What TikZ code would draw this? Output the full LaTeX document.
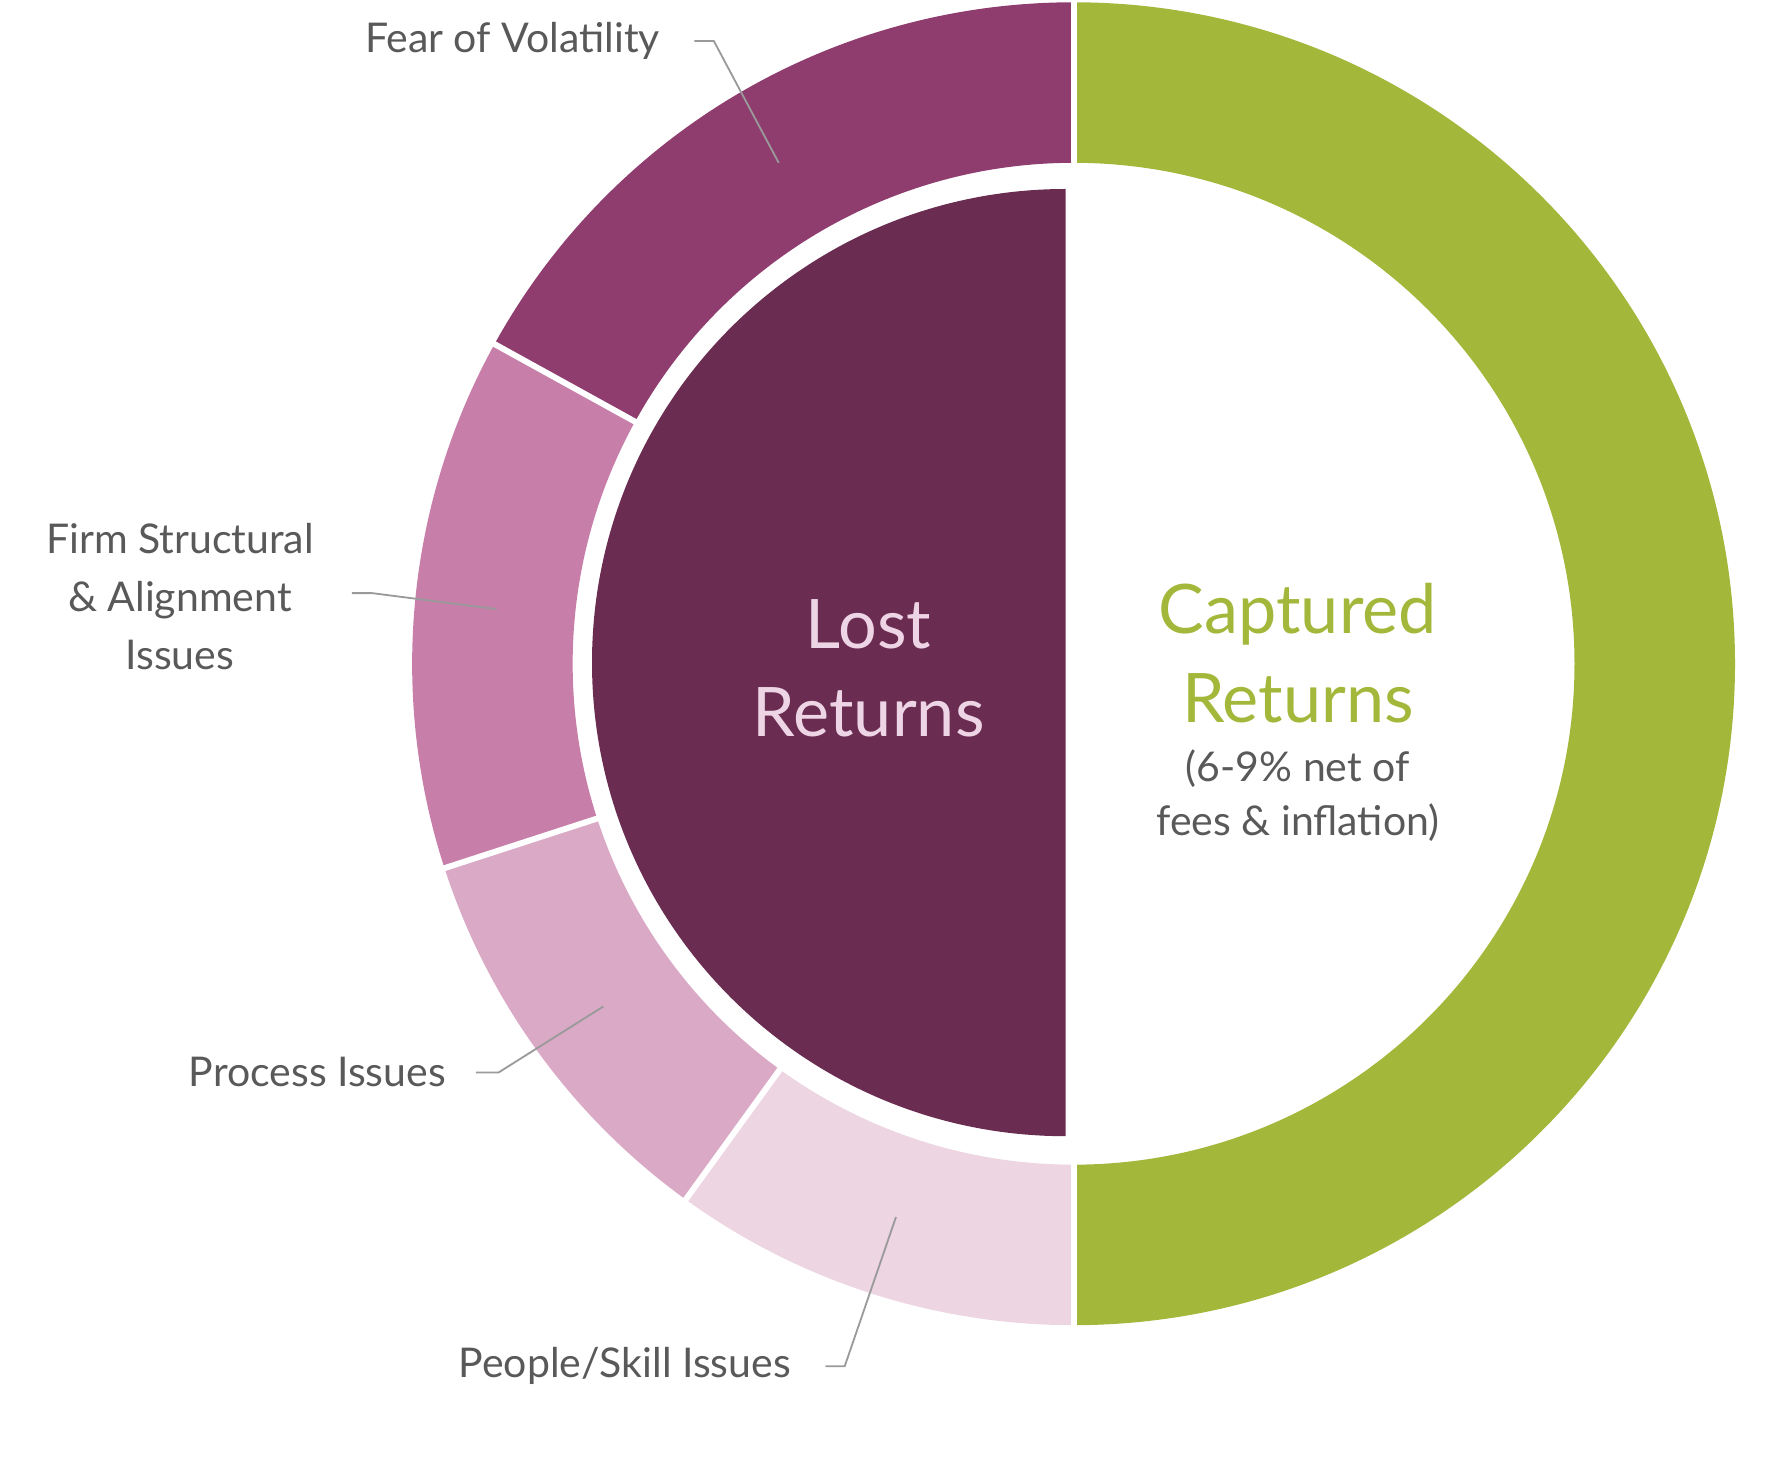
\documentclass[tikz,border=0pt]{standalone}
\usepackage{fontspec}
\setmainfont{Lato}
\definecolor{grn}{HTML}{A3B73B}
\definecolor{fear}{HTML}{8F3C6E}
\definecolor{firm}{HTML}{C77FA9}
\definecolor{proc}{HTML}{D9A9C6}
\definecolor{ppl}{HTML}{EDD5E2}
\definecolor{lost}{HTML}{6A2C51}
\definecolor{lostt}{HTML}{EED5E5}
\definecolor{txt}{HTML}{595959}
\definecolor{lead}{HTML}{9A9A9A}
\begin{document}
\begin{tikzpicture}[x=0.5pt,y=0.5pt,
  lbl/.style={text=txt,font=\fontsize{18}{25.5}\selectfont,inner sep=0pt},
  leader/.style={draw=lead,line width=0.8pt},
  sep/.style={draw=white,line width=2.6pt}]
\useasboundingbox (0,0) rectangle (1560,-1287);
\coordinate (c) at (943,-583);
\def\Ro{581}\def\Ri{440}
\newcommand\seg[3]{\fill[#3] ($(c)+(#1:\Ro)$) arc[start angle=#1,end angle=#2,radius=\Ro] -- ($(c)+(#2:\Ri)$) arc[start angle=#2,end angle=#1,radius=\Ri] -- cycle;}
\usetikzlibrary{calc}
\seg{-90}{90}{grn}
\seg{90}{151.1}{fear}
\seg{151.1}{198}{firm}
\seg{198}{234.1}{proc}
\seg{234.1}{270}{ppl}
\foreach \a in {90,151.1,198,234.1,270}
  \draw[sep] ($(c)+(\a:\Ri-3)$) -- ($(c)+(\a:\Ro+3)$);
\coordinate (ic) at (936,-582);
\fill[lost] ($(ic)+(90:416)$) arc[start angle=90,end angle=270,radius=416] -- cycle;
\node[text=lostt,font=\fontsize{30}{39}\selectfont,align=center] (lostlbl) at (763,-587) {Lost\\Returns};
\node[text=grn,font=\fontsize{30}{39}\selectfont,align=center] (cap) at (1140,-574) {Captured\\Returns};
\node[text=txt,font=\fontsize{18}{23.5}\selectfont,align=center] (sub) at (1140,-699) {(6-9\% net of\\fees \& inflation)};
\node[lbl,anchor=east] (fv) at (580,-36) {Fear of Volatility};
\node[lbl,align=center] (fs) at (158,-524) {Firm Structural\\\& Alignment\\Issues};
\node[lbl,anchor=east] (pi) at (392,-942) {Process Issues};
\node[lbl,anchor=east] (ps) at (695,-1200) {People/Skill Issues};
\coordinate (fv1) at (684,-143);
\coordinate (fs1) at (436,-535);
\coordinate (pi1) at (530,-884);
\coordinate (ps1) at (787,-1069);
\draw[leader] ([xshift=15]fv.east) -- ++(17,0) -- (fv1);
\draw[leader] (309,-521) -- (327,-521) -- (fs1);
\draw[leader] ([xshift=13]pi.east) -- ++(20,0) -- (pi1);
\draw[leader] ([xshift=15]ps.east) -- ++(17,0) -- (ps1);
\end{tikzpicture}
\end{document}
